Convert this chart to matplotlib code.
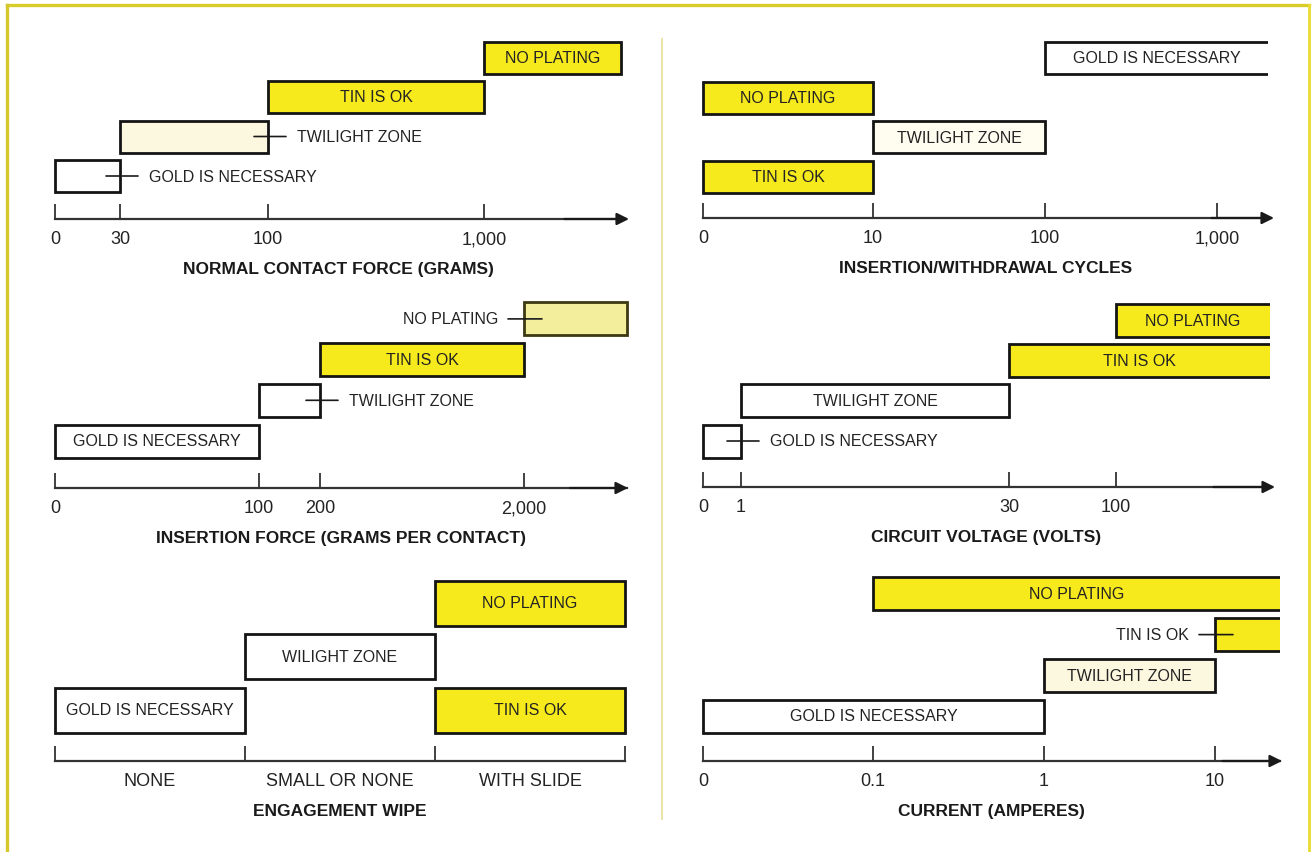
import numpy as np
import matplotlib
matplotlib.use('Agg')
import matplotlib.pyplot as plt
import matplotlib.transforms as mtransforms
from matplotlib.lines import Line2D

plt.rcParams['font.family'] = ['Liberation Sans', 'DejaVu Sans']

# ---- data ----
force_ticks = [0, 30, 100, 1000]
force_labels = ['0', '30', '100', '1,000']
force_bars = ['GOLD IS NECESSARY', 'TWILIGHT ZONE', 'TIN IS OK', 'NO PLATING']
force_start = [0, 30, 100, 1000]
force_end = [30, 100, 1000, None]
force_row = [0, 1, 2, 3]

ins_ticks = [0, 100, 200, 2000]
ins_labels = ['0', '100', '200', '2,000']
ins_bars = ['GOLD IS NECESSARY', 'TWILIGHT ZONE', 'TIN IS OK', 'NO PLATING']
ins_start = [0, 100, 200, 2000]
ins_end = [100, 200, 2000, None]
ins_row = [0, 1, 2, 3]

wipe_cats = ['NONE', 'SMALL OR NONE', 'WITH SLIDE']
wipe_bars = ['GOLD IS NECESSARY', 'WILIGHT ZONE', 'NO PLATING', 'TIN IS OK']
wipe_start = [0, 1, 2, 2]
wipe_end = [1, 2, 3, 3]
wipe_row = [0, 1, 2, 0]

cyc_ticks = [0, 10, 100, 1000]
cyc_labels = ['0', '10', '100', '1,000']
cyc_bars = ['TIN IS OK', 'TWILIGHT ZONE', 'NO PLATING', 'GOLD IS NECESSARY']
cyc_start = [0, 10, 0, 100]
cyc_end = [10, 100, 10, None]
cyc_row = [0, 1, 2, 3]

volt_ticks = [0, 1, 30, 100]
volt_labels = ['0', '1', '30', '100']
volt_bars = ['GOLD IS NECESSARY', 'TWILIGHT ZONE', 'TIN IS OK', 'NO PLATING']
volt_start = [0, 1, 30, 100]
volt_end = [1, 30, None, None]
volt_row = [0, 1, 2, 3]

amp_ticks = [0, 0.1, 1, 10]
amp_labels = ['0', '0.1', '1', '10']
amp_bars = ['GOLD IS NECESSARY', 'TWILIGHT ZONE', 'TIN IS OK', 'NO PLATING']
amp_start = [0, 1, 10, 0.1]
amp_end = [1, 10, None, None]
amp_row = [0, 1, 2, 3]

# ---- styles ----
W, H = 1315, 853
YEL = '#f6e91c'
FILLS = {'white': 'white', 'yellow': YEL, 'cream': '#fcf7df',
         'cream2': '#fffcf0', 'speckle': '#f3ee9c'}
EDGES = {'speckle': '#3d3912'}
TXT = '#232323'

panels = [
    dict(ticks=force_ticks, labels=force_labels, bars=force_bars, start=force_start,
         end=force_end, row=force_row, title='NORMAL CONTACT FORCE (GRAMS)',
         fill=['white', 'cream', 'yellow', 'yellow'], mode=['right', 'right', 'in', 'in'],
         closed=[True, True, True, True],
         tick_px=[55, 120, 268, 484], right=621, arrow=629, axis_y=220, c0=177, step=39.5, h=32),
    dict(ticks=ins_ticks, labels=ins_labels, bars=ins_bars, start=ins_start,
         end=ins_end, row=ins_row, title='INSERTION FORCE (GRAMS PER CONTACT)',
         fill=['white', 'white', 'yellow', 'speckle'], mode=['in', 'right', 'in', 'left'],
         closed=[True, True, True, True],
         tick_px=[55, 259, 320, 524], right=627, arrow=628, axis_y=489, c0=442, step=40.7, h=33),
    dict(ticks=None, labels=wipe_cats, bars=wipe_bars, start=wipe_start,
         end=wipe_end, row=wipe_row, title='ENGAGEMENT WIPE',
         fill=['white', 'white', 'yellow', 'yellow'], mode=['in', 'in', 'in', 'in'],
         closed=[True, True, True, True],
         tick_px=[55, 243, 433, 625], right=625, arrow=None, axis_y=762, c0=711, step=53.5, h=45),
    dict(ticks=cyc_ticks, labels=cyc_labels, bars=cyc_bars, start=cyc_start,
         end=cyc_end, row=cyc_row, title='INSERTION/WITHDRAWAL CYCLES',
         fill=['yellow', 'cream2', 'yellow', 'white'], mode=['in', 'in', 'in', 'in'],
         closed=[True, True, True, False],
         tick_px=[703, 873, 1045, 1217], right=1268, arrow=1274, axis_y=219, c0=178, step=39.7, h=32),
    dict(ticks=volt_ticks, labels=volt_labels, bars=volt_bars, start=volt_start,
         end=volt_end, row=volt_row, title='CIRCUIT VOLTAGE (VOLTS)',
         fill=['white', 'white', 'yellow', 'yellow'], mode=['right', 'in', 'in', 'in'],
         closed=[True, True, False, False],
         tick_px=[703, 741, 1009, 1116], right=1270, arrow=1275, axis_y=488, c0=442, step=40.3, h=33),
    dict(ticks=amp_ticks, labels=amp_labels, bars=amp_bars, start=amp_start,
         end=amp_end, row=amp_row, title='CURRENT (AMPERES)',
         fill=['white', 'cream', 'yellow', 'yellow'], mode=['in', 'in', 'left', 'in'],
         closed=[True, True, False, False],
         tick_px=[703, 873, 1044, 1215], right=1280, arrow=1282, axis_y=762, c0=717, step=40.7, h=33),
]


def piecewise(vals, pos):
    vals = np.asarray(vals, float)
    pos = np.asarray(pos, float)

    def make(a, b):
        s_hi = (b[-1] - b[-2]) / (a[-1] - a[-2])
        s_lo = (b[1] - b[0]) / (a[1] - a[0])

        def f(x):
            x = np.asarray(x, float)
            y = np.interp(x, a, b)
            y = np.where(x > a[-1], b[-1] + (x - a[-1]) * s_hi, y)
            y = np.where(x < a[0], b[0] + (x - a[0]) * s_lo, y)
            return y
        return f
    return make(vals, pos), make(pos, vals)


fig = plt.figure(figsize=(W / 100, H / 100), dpi=100)
fig.patch.set_facecolor('white')

for p in panels:
    left = p['tick_px'][0]
    nrows = max(p['row']) + 1
    top_px = p['c0'] - (nrows - 1) * p['step'] - p['h'] / 2 - 8
    ax = fig.add_axes([left / W, 1 - p['axis_y'] / H,
                       (p['right'] - left) / W, (p['axis_y'] - top_px) / H])
    ax.patch.set_alpha(0)
    y_lo = -(p['axis_y'] - p['c0']) / p['step']
    ax.set_ylim(y_lo, y_lo + (p['axis_y'] - top_px) / p['step'])
    bh = p['h'] / p['step']

    rel = [t - left for t in p['tick_px']]
    if p['ticks'] is not None:
        fwd, inv = piecewise(p['ticks'], rel)
        ax.set_xscale('function', functions=(fwd, inv))
        ax.set_xlim(p['ticks'][0], float(inv(p['right'] - left)))
        ax.set_xticks(p['ticks'])
        ax.set_xticklabels(p['labels'])
        xmax = ax.get_xlim()[1]
        beyond = float(inv(p['right'] - left + 30))
    else:
        ax.set_xlim(0, len(p['labels']))
        ax.set_xticks(range(len(p['labels']) + 1))
        ax.set_xticklabels([])
        ax.set_xticks([i + 0.5 for i in range(len(p['labels']))], minor=True)
        ax.set_xticklabels(p['labels'], minor=True)
        ax.tick_params(axis='x', which='minor', length=0, pad=8, labelsize=13, labelcolor=TXT)
        xmax = beyond = len(p['labels'])

    ax.tick_params(axis='x', which='major', direction='in', length=11, width=1.3,
                   pad=8, labelsize=13, labelcolor=TXT, color='#333333')
    ax.set_yticks([])
    for s in ['top', 'left', 'right']:
        ax.spines[s].set_visible(False)
    ax.spines['bottom'].set_linewidth(1.6)
    ax.spines['bottom'].set_color('#333333')
    ax.set_xlabel(p['title'], fontsize=12.5, fontweight='bold', color='#1a1a1a', labelpad=10)

    if p['arrow'] is not None:
        frac = (p['arrow'] - left) / (p['right'] - left)
        ax.annotate('', xy=(frac, 0), xytext=(0.9, 0), xycoords='axes fraction',
                    arrowprops=dict(arrowstyle='-|>', color='#1a1a1a', lw=1.6,
                                    mutation_scale=18, shrinkA=0, shrinkB=0),
                    annotation_clip=False)

    for lab, s0, e0, r, fk, md, cl in zip(p['bars'], p['start'], p['end'], p['row'],
                                           p['fill'], p['mode'], p['closed']):
        e = (xmax if cl else beyond) if e0 is None else e0
        ax.barh(r, e - s0, left=s0, height=bh, color=FILLS[fk],
                edgecolor=EDGES.get(fk, '#141414'), linewidth=2.0, clip_on=not cl, zorder=2)
        if md == 'in':
            e_vis = xmax if e0 is None else e0
            cx = float(inv((fwd(s0) + fwd(e_vis)) / 2)) if p['ticks'] is not None else (s0 + e_vis) / 2
            ax.text(cx, r, lab, ha='center', va='center', fontsize=11.5, color=TXT, zorder=3)
        elif md == 'right':
            tr = mtransforms.offset_copy(ax.transData, fig=fig, x=-14, y=0, units='dots')
            ax.annotate('', xy=(e0, r), xycoords=tr, xytext=(32, 0), textcoords='offset pixels',
                        arrowprops=dict(arrowstyle='-', color='#1a1a1a', lw=1.2,
                                        shrinkA=0, shrinkB=0), zorder=3)
            ax.annotate(lab, xy=(e0, r), xytext=(29, 0), textcoords='offset pixels',
                        ha='left', va='center', fontsize=11.5, color=TXT, annotation_clip=False)
        else:
            tr = mtransforms.offset_copy(ax.transData, fig=fig, x=18, y=0, units='dots')
            ax.annotate('', xy=(s0, r), xycoords=tr, xytext=(-34, 0), textcoords='offset pixels',
                        arrowprops=dict(arrowstyle='-', color='#1a1a1a', lw=1.2,
                                        shrinkA=0, shrinkB=0), zorder=3)
            ax.annotate(lab, xy=(s0, r), xytext=(-26, 0), textcoords='offset pixels',
                        ha='right', va='center', fontsize=11.5, color=TXT, annotation_clip=False)

# page border and divider
def px_line(x0, y0, x1, y1, **kw):
    fig.add_artist(Line2D([x0 / W, x1 / W], [1 - y0 / H, 1 - y1 / H],
                          transform=fig.transFigure, **kw))

px_line(7, 6, 1309, 6, color='#d9cd2a', lw=2.4)
px_line(7, 6, 7, 853, color='#d6c82a', lw=2.4)
px_line(1309, 6, 1309, 853, color='#e8dc30', lw=2.0)
px_line(662, 40, 662, 820, color='#ebe3a6', lw=1.4)

fig.savefig('out.png', dpi=100)
